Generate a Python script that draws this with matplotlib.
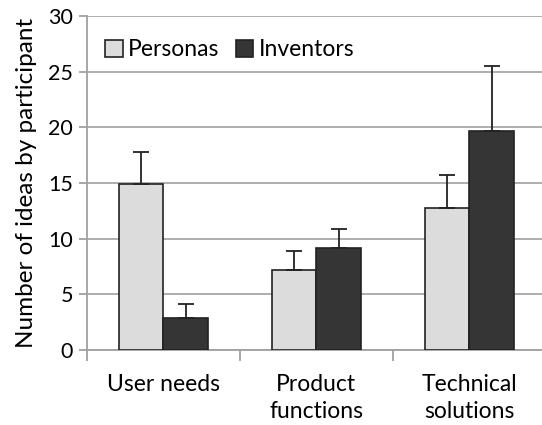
import matplotlib.pyplot as plt
import numpy as np

categories = ["User needs", "Product\nfunctions", "Technical\nsolutions"]
personas = [14.9, 7.2, 12.8]
personas_err = [2.9, 1.7, 2.9]
inventors = [2.9, 9.2, 19.7]
inventors_err = [1.2, 1.7, 5.8]

plt.rcParams["font.family"] = ["Lato", "DejaVu Sans"]

fig = plt.figure(figsize=(5.42, 4.25), dpi=100)
ax = fig.add_axes([0.1605, 0.1765, 0.8395, 0.7855])

x = np.arange(len(categories))
w = 0.29
ax.bar(x - w / 2, personas, w, color="#dcdcdc", edgecolor="#222222", linewidth=1.2,
       label="Personas", zorder=3,
       yerr=[np.zeros(3), personas_err], error_kw=dict(ecolor="#222222", elinewidth=1.3, capsize=6, capthick=1.3))
ax.bar(x + w / 2, inventors, w, color="#353535", edgecolor="#222222", linewidth=1.2,
       label="Inventors", zorder=3,
       yerr=[np.zeros(3), inventors_err], error_kw=dict(ecolor="#222222", elinewidth=1.3, capsize=6, capthick=1.3))

ax.set_ylim(0, 30)
ax.set_xlim(-0.5, 2.475)
ax.set_yticks(range(0, 31, 5))
ax.yaxis.grid(True, color="#a8a8a8", linewidth=1.3, zorder=0)
ax.set_axisbelow(True)

for s in ["top", "right"]:
    ax.spines[s].set_visible(False)
for s in ["left", "bottom"]:
    ax.spines[s].set_color("#a0a0a0")
    ax.spines[s].set_linewidth(1.3)

ax.set_xticks([-0.5, 0.5, 1.5])
ax.set_xticks(x, minor=True)
ax.set_xticklabels([])
ax.set_xticklabels(categories, minor=True, fontsize=16.5, linespacing=1.35)
ax.tick_params(axis="x", which="major", length=8, color="#a0a0a0", width=1.3)
ax.tick_params(axis="x", which="minor", length=0, pad=17)
ax.tick_params(axis="y", length=6, color="#a0a0a0", width=1.3, labelsize=15.5, pad=4)

ax.set_ylabel("Number of ideas by participant", fontsize=17.5, labelpad=8)

ax.legend(loc="upper left", bbox_to_anchor=(0.0, 0.985), frameon=False, fontsize=16.5,
          ncol=2, handlelength=0.75, handleheight=0.75, handletextpad=0.25, columnspacing=0.7,
          borderpad=0.3)

plt.savefig("out.png", dpi=100)
